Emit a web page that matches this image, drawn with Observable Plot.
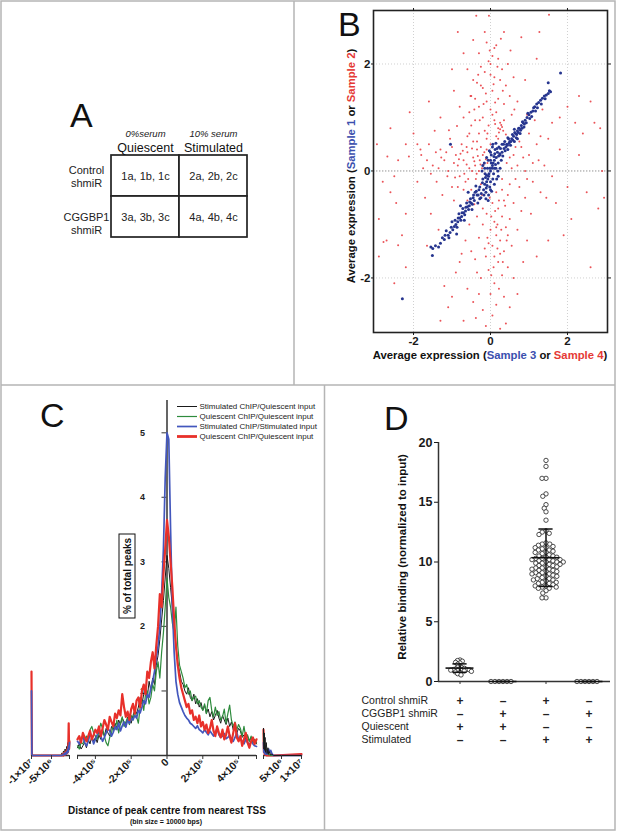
<!DOCTYPE html>
<html><head><meta charset="utf-8">
<script src="https://cdn.jsdelivr.net/npm/d3@7"></script>
<script src="https://cdn.jsdelivr.net/npm/@observablehq/plot@0.6"></script>
<style>
body{margin:0;background:#fff;font-family:"Liberation Sans",Arial,sans-serif}
#root{position:relative;width:617px;height:833px;overflow:hidden;background:#fff}
#root svg{position:absolute}
</style></head><body><div id="root"></div>
<script>
// ---------- Panel A data ----------
const aCols = ["Quiescent", "Stimulated"];
const aColNotes = ["0%serum", "10% serum"];
const aRows = ["Control\nshmiR", "CGGBP1\nshmiR"];
const aCells = [["1a, 1b, 1c", "2a, 2b, 2c"], ["3a, 3b, 3c", "4a, 4b, 4c"]];

// ---------- Panel B data ----------
const bTicks = [-2, 0, 2];
const redPts = [
[-0.37,2.9],[-0.04,2.9],[1.52,2.92],[1.27,2.6],[0.27,2.47],[-0.1,2.4],[0.1,2.3],[0.15,2.35],[-0.3,2.2],[0.05,2.15],[-0.05,2.05],[0.2,2.1],[-0.25,1.95],[0.3,1.9],[-0.15,1.85],[0.0,1.8],[0.1,1.75],[-0.45,1.7],[-0.35,1.65],[0.25,1.7],[0.4,1.6],[-0.2,1.55],[0.05,1.5],[-0.5,1.4],[-0.4,1.35],[-0.1,1.3],[0.2,1.35],[0.35,1.25],[-0.3,1.2],[0.0,1.15],[0.15,1.1],[-0.55,1.1],[-0.2,1.0],[0.1,0.95],[0.25,0.9],[-0.4,0.95],[-0.05,0.85],[0.2,0.8],[0.25,0.78],[0.3,0.82],[0.22,0.72],[0.28,0.86],[0.33,0.75],[-0.15,0.75],[-0.3,0.7],[0.4,0.68],[-0.6,0.65],[-0.1,0.6],[0.2,0.6],[-0.45,0.55],[0.0,0.5],[-0.25,0.45],[-0.52,1.4],[-0.87,0.84],[-1.08,0.76],[0.45,2.0],[-0.6,1.9],[0.6,1.75],[-0.8,1.2],[0.7,1.3],[0.9,1.7],[0.55,1.05],[-0.7,2.2],[0.35,2.6],[-0.15,2.6],
[-1.8,0.3],[-1.6,0.5],[-1.5,0.1],[-1.4,-0.2],[-1.3,0.4],[-1.2,0.2],[-1.1,0.0],[-1.0,-0.3],[-0.9,0.3],[-0.85,0.1],[-0.8,-0.1],[-0.75,0.5],[-0.7,0.2],[-0.65,-0.2],[-0.6,0.35],[-0.55,0.05],[-0.5,-0.35],[-0.45,0.25],[-0.4,0.1],[-0.38,-0.15],[-0.35,0.4],[-0.3,0.0],[-0.28,0.2],[-0.25,-0.25],[-0.2,0.3],[-0.18,0.12],[-0.15,-0.05],[-0.12,0.22],[-0.1,0.4],[-1.9,-0.2],[-1.7,-0.5],[-1.25,-0.45],[-0.95,-0.55],[-2.0,0.7],[-1.45,0.75],[-1.05,0.6],[-0.55,0.7],[-0.42,0.18],[-0.33,0.28],[-0.22,0.05],[-0.48,0.42],[-0.62,0.12],[-0.92,-0.12],[-1.15,0.35],[-1.35,0.05],[-0.78,0.32],[-0.68,-0.05],
[-2.8,-0.2],[-2.6,-0.4],[-2.5,-0.1],[-2.9,-0.9],[-2.7,-1.3],[-2.78,-1.33],[-2.4,-1.39],[-2.3,-1.2],[-2.2,-0.8],[-2.4,0.2],[-2.2,-1.8],[-1.9,0.5],[-2.9,-1.6],[-2.68,0.27],[-2.12,0.27],[-1.82,0.4],[-2.6,0.8],[-2.1,1.1],[-1.6,1.3],[-1.3,1.0],[-2.5,-2.1],
[0.05,-0.6],[0.2,-0.7],[-0.1,-0.8],[0.3,-0.85],[0.1,-0.95],[-0.2,-1.0],[0.4,-1.05],[0.0,-1.1],[0.15,-1.2],[-0.3,-1.25],[0.25,-1.3],[0.05,-1.4],[-0.15,-1.45],[0.35,-1.5],[0.1,-1.6],[-0.4,-1.65],[0.2,-1.7],[0.45,-1.8],[-0.05,-1.85],[0.3,-1.95],[-0.25,-2.0],[0.1,-2.1],[-0.6,-2.2],[0.0,-2.3],[0.35,-2.35],[-0.45,-2.45],[0.15,-2.5],[-0.2,-2.6],[0.05,-2.7],[-0.7,-2.8],[0.4,-2.85],[-1.1,-2.55],[-1.2,-2.15],[-1.0,-2.35],[-0.9,-1.9],[-0.8,-1.7],[0.6,-2.0],[0.55,-1.4],[0.7,-1.1],[0.5,-0.9],[0.6,-0.6],[0.45,-0.45],[0.3,-0.35],[0.8,-0.75],[-0.55,-1.0],[-0.65,-1.3],[0.22,-0.55],[0.12,-0.75],[0.38,-0.65],[0.18,-1.0],[-0.08,-1.25],[0.28,-1.1],[0.42,-1.3],[-0.35,-0.85],[0.08,-1.8],[0.25,-1.55],[-0.3,-2.3],[0.5,-2.55],[-0.12,-2.9],
[0.9,0.0],[1.0,0.3],[1.1,-0.2],[1.2,0.5],[1.3,-0.4],[1.4,0.1],[1.5,0.6],[1.6,-0.1],[1.8,0.4],[2.0,-0.3],[2.2,0.9],[2.4,0.7],[2.6,1.3],[2.9,0.0],[2.8,-0.7],[2.1,-0.9],[1.7,-0.6],[1.5,-1.3],[0.9,-0.5],[1.0,0.7],[1.8,1.0],[2.3,1.4],[0.8,0.45],[1.25,0.2],[1.35,1.15],[0.6,0.3],[0.7,0.1],[0.65,-0.15],[0.85,0.25],[0.55,0.05],[0.75,-0.3],[1.05,-0.8],[1.2,-1.6],[0.95,-1.3],[1.6,0.9],[2.0,1.2],[2.7,0.9],[1.15,0.95],
[-0.02,2.25],[0.18,1.95],[-0.32,1.8],[0.08,1.62],[-0.12,1.45],[0.32,1.5],[-0.42,1.15],[0.05,1.05],[-0.28,0.95],[0.12,0.88],[-0.08,0.7],[0.35,0.95],[0.15,0.65],[-0.5,0.85],[-0.35,0.55],[-0.62,0.45],[-0.72,0.38],[-0.82,0.22],[-0.95,0.15],[-1.12,-0.1],[-1.28,0.25],[-1.42,0.35],[-1.55,-0.05],[-1.65,0.2],[-1.75,0.05],[-0.58,-0.15],[-0.48,0.0],[-0.36,-0.05],[-0.26,0.12],[-0.16,0.35],[-0.08,0.15],[-0.7,-0.35],[-0.85,-0.3],[-1.0,0.45],[-0.2,-0.7],[0.02,-0.85],[0.15,-1.05],[-0.05,-1.35],[0.18,-1.45],[0.32,-1.7],[-0.12,-1.6],[0.02,-1.95],[0.22,-2.2],[-0.35,-1.9],[-0.5,-1.5],[0.45,-1.2],[0.35,-0.55],[0.5,-0.25],[0.65,0.45],[0.5,0.25],[0.42,0.15],[0.3,-0.15],[0.75,0.55],[1.1,0.15],[1.3,0.65],[0.95,-0.15],[1.45,-0.5],[2.5,-0.4],[2.3,0.3],[-2.2,0.5],[-2.45,-0.6],[-1.55,-0.8],[-1.35,-1.1],[-0.75,-1.55],[-0.95,1.5],[-0.25,1.6],[0.5,1.4],[0.62,1.15],[-0.7,1.0],[0.0,2.0],[-0.18,1.25],[0.12,1.28],[-0.45,2.45],[0.52,2.25],[-0.6,-0.55],[-0.42,-0.62],[-0.22,-0.45],[-0.02,-0.5],[0.15,-0.4],[-1.65,-1.4],[0.85,-1.7],[0.7,-2.3],[-0.38,-2.75],[0.25,-2.95],[0.95,1.05],[1.9,-1.2],[2.6,-1.8],[2.95,-0.5],[2.85,0.8],[-2.95,0.5],[-1.0,1.9],[-1.3,-2.8],[1.2,2.1],[0.8,2.5],[-0.85,2.6]
];
const bluePts = [
[0,0],[0.05,0.1],[-0.05,-0.1],[0.1,0.2],[-0.1,-0.2],[0.02,0.3],[-0.02,-0.3],[0.08,-0.05],[-0.08,0.05],[0.15,0.25],[-0.15,-0.25],[0.12,0.4],[-0.12,-0.4],[0.2,0.15],[-0.2,-0.15],[0.05,0.45],[-0.05,-0.45],[0.18,0.35],[-0.18,-0.35],[0.1,-0.25],[-0.1,0.25],[0.25,0.05],[-0.22,0.0],[0.0,0.2],[0.0,-0.2],[0.07,0.15],[-0.07,-0.15],[0.14,0.05],[-0.14,-0.05],[0.03,-0.38],[-0.03,0.38],[0.22,0.45],[0.3,0.5],[-0.25,-0.5],[0.11,0.32],[-0.11,-0.32],[0.2,-0.1],[-0.2,0.1],[0.06,0.5],[-0.06,-0.55],[0.28,0.2],[-0.28,-0.3],[0.16,-0.15],[-0.16,0.15],[0.04,0.05],[-0.04,-0.05],[0.09,0.27],[-0.09,-0.27],[0.24,0.32],[-0.24,-0.42],
[-0.3,-0.35],[-0.35,-0.45],[-0.4,-0.4],[-0.42,-0.55],[-0.45,-0.5],[-0.5,-0.6],[-0.52,-0.52],[-0.55,-0.65],[-0.6,-0.67],[-0.62,-0.6],[-0.65,-0.75],[-0.7,-0.78],[-0.72,-0.7],[-0.75,-0.85],[-0.8,-0.88],[-0.82,-0.8],[-0.85,-0.95],[-0.9,-1.0],[-0.94,-1.04],[-0.98,-1.1],[-1.0,-0.95],[-1.05,-1.15],[-1.1,-1.2],[-1.15,-1.12],[-1.2,-1.28],[-1.25,-1.25],[-1.3,-1.35],[-1.35,-1.42],[-1.43,-1.4],[-1.5,-1.45],[-1.55,-1.42],[-1.51,-1.58],[-2.29,-2.39],[-0.58,-0.4],[-0.48,-0.72],[-0.68,-0.92],[-0.78,-0.65],[-0.33,-0.6],[-0.38,-0.28],[-0.88,-1.18],
[0.25,0.3],[0.3,0.35],[0.32,0.28],[0.35,0.42],[0.38,0.38],[0.4,0.45],[0.42,0.5],[0.45,0.4],[0.48,0.52],[0.5,0.55],[0.52,0.48],[0.55,0.6],[0.58,0.58],[0.6,0.65],[0.62,0.55],[0.65,0.7],[0.68,0.68],[0.7,0.75],[0.72,0.72],[0.75,0.8],[0.78,0.76],[0.8,0.85],[0.82,0.8],[0.85,0.9],[0.88,0.88],[0.9,0.95],[0.95,1.0],[1.0,1.05],[1.02,0.98],[1.05,1.1],[1.1,1.12],[1.12,1.18],[1.15,1.2],[1.2,1.25],[1.25,1.28],[1.3,1.32],[1.35,1.36],[1.4,1.4],[1.45,1.42],[1.5,1.45],[1.53,1.5],[1.56,1.48],[1.5,1.65],[1.82,1.83],[-1.04,0.5],[0.62,0.78],[0.45,0.62],[0.7,0.6],
[0.02,0.15],[-0.02,0.05],[0.06,-0.15],[-0.06,0.2],[0.13,0.12],[-0.13,-0.12],[0.17,0.42],[-0.17,-0.45],[0.0,0.35],[0.0,-0.35],[0.21,0.28],[-0.21,-0.22],[0.1,0.05],[-0.1,-0.08],[0.26,0.42],[0.34,0.5],[0.37,0.55],[0.44,0.48],[0.47,0.6],[0.53,0.55],[0.57,0.68],[0.63,0.72],[0.67,0.62],[0.73,0.8],[0.77,0.7],[0.83,0.92],[0.87,0.82],[0.93,0.9],[0.97,1.08],[1.07,1.02],[1.17,1.12],[1.22,1.18],[1.32,1.25],[1.42,1.35],[-0.32,-0.45],[-0.37,-0.38],[-0.44,-0.45],[-0.47,-0.62],[-0.54,-0.58],[-0.57,-0.72],[-0.64,-0.68],[-0.67,-0.82],[-0.74,-0.78],[-0.77,-0.92],[-0.84,-0.88],[-0.87,-1.05],[-0.92,-0.92],[-1.02,-1.05],[-1.08,-1.25],[-1.18,-1.2],[-0.28,-0.52],[-0.12,-0.52],[0.14,0.52],[-0.15,0.05],[0.19,0.0]
];

// ---------- Panel C data ----------
const cBinSize = 1e4;
const cBlack = [0.12,0.18,0.10,0.15,0.20,0.12,0.25,0.18,0.30,0.22,0.28, 0.20,0.32,0.25,0.38,0.30,0.42,0.35,0.30,0.45,0.40, 0.50,0.42,0.55,0.48,0.58,0.52,0.45,0.60,0.55,0.50, 0.62,0.70,0.65,0.75,0.90,0.80,0.95,1.05,0.90,1.15, 1.00,1.20,1.10,1.40,1.55,1.80,2.10,2.40,2.75,3.10, 2.90,2.60,2.30,2.00,1.70,1.45,1.30,1.15,1.10,1.00, 0.95,1.05,0.90,0.85,0.95,0.80,0.88,0.75,0.82,0.70, 0.78,0.65,0.72,0.60,0.68,0.55,0.62,0.70,0.58,0.50, 0.62,0.55,0.48,0.58,0.45,0.52,0.40,0.48,0.35,0.42, 0.38,0.28,0.32,0.25,0.30,0.22,0.28,0.20,0.24,0.18];
const cGreen = [0.15,0.10,0.20,0.18,0.25,0.30,0.22,0.40,0.45,0.35,0.30, 0.25,0.38,0.50,0.42,0.30,0.20,0.15,0.28,0.35,0.48, 0.40,0.55,0.35,0.50,0.60,0.45,0.52,0.58,0.48,0.62, 0.55,0.70,0.60,0.50,0.75,0.85,0.70,0.95,1.00,0.80, 0.90,1.10,1.00,1.30,1.45,1.20,1.60,1.90,2.30,2.75, 2.45,2.30,2.05,1.90,2.30,1.70,1.40,1.30,1.20,1.05, 1.10,0.95,1.00,0.85,0.90,0.92,0.80,0.85,0.75,0.70, 0.80,0.65,0.85,0.90,0.70,0.60,0.75,0.62,0.68,0.55, 0.60,0.72,0.50,0.65,0.78,0.55,0.45,0.52,0.40,0.48, 0.42,0.30,0.45,0.28,0.32,0.22,0.30,0.20,0.25,0.20];
const cBlue = [0.22,0.18,0.25,0.30,0.20,0.15,0.22,0.35,0.28,0.18,0.25, 0.32,0.40,0.30,0.22,0.28,0.35,0.42,0.38,0.30,0.36, 0.45,0.40,0.50,0.38,0.46,0.52,0.44,0.55,0.50,0.58, 0.55,0.62,0.58,0.70,0.66,0.75,0.85,0.80,0.95,0.90, 1.05,1.15,1.30,1.50,1.70,2.00,2.50,3.20,4.30,5.00, 4.90,3.50,2.30,1.60,1.15,0.95,0.82,0.75,0.68,0.62, 0.58,0.55,0.50,0.48,0.45,0.42,0.46,0.40,0.38,0.35, 0.40,0.36,0.32,0.38,0.34,0.30,0.36,0.42,0.32,0.28, 0.30,0.34,0.26,0.28,0.32,0.25,0.22,0.28,0.36,0.24, 0.26,0.22,0.18,0.25,0.20,0.16,0.22,0.18,0.15,0.14];
const cRed = [0.25,0.30,0.20,0.35,0.28,0.22,0.30,0.38,0.25,0.32,0.40, 0.35,0.45,0.30,0.42,0.55,0.48,0.40,0.60,0.52,0.45, 0.65,0.58,0.70,0.62,0.95,0.75,0.60,0.68,0.55,0.72, 0.80,0.65,0.85,0.90,0.75,1.00,1.10,0.95,1.30,1.20, 1.45,1.60,1.35,1.70,2.00,2.50,2.30,2.80,3.20,3.65, 3.40,3.00,2.60,2.10,1.70,1.40,1.20,1.05,0.95,0.85, 0.75,0.80,0.65,0.70,0.55,0.60,0.50,0.62,0.45,0.52, 0.40,0.48,0.35,0.42,0.55,0.38,0.30,0.45,0.35,0.28, 0.40,0.25,0.32,0.45,0.30,0.20,0.35,0.50,0.28,0.22, 0.30,0.15,0.25,0.35,0.20,0.12,0.22,0.28,0.18,0.25];
const cLeftX = [-1e7,-9.9e6,-2.6e6,-2.4e6,-2.2e6,-2.0e6,-1.8e6,-1.6e6,-1.4e6,-1.2e6,-1.0e6,-0.9e6,-0.8e6,-0.7e6,-0.6e6,-0.5e6];
const cLeftBlack = [0,0,0,0.04,0.01,0.07,0.02,0.10,0.03,0.14,0.05,0.20,0.08,0.26,0.12,0.30];
const cLeftGreen = [0,0,0,0.02,0,0.04,0.01,0.06,0.03,0.09,0.05,0.14,0.08,0.20,0.12,0.24];
const cLeftBlue = [1.0,0,0,0,0.01,0.02,0.01,0.04,0.02,0.06,0.04,0.10,0.06,0.15,0.10,0.20];
const cLeftRed = [1.3,0,0,0,0.02,0,0.04,0.01,0.06,0.03,0.10,0.05,0.14,0.50,0.10,0.22];
const cRightX = [5e5,6e5,7e5,8e5,9e5,1.0e6,1.2e6,1.4e6,1.6e6,1.8e6,2.0e6,2.3e6,2.6e6,3e6,1e7];
const cRightBlack = [0.42,0.10,0.35,0.08,0.28,0.05,0.20,0.03,0.12,0.02,0.06,0.01,0.02,0,0];
const cRightGreen = [0.35,0.10,0.25,0.05,0.15,0.03,0.10,0.02,0.05,0.01,0.02,0,0,0,0];
const cRightBlue = [0.20,0.05,0.15,0.03,0.10,0.02,0.08,0.02,0.06,0.10,0.05,0.08,0.03,0,0];
const cRightRed = [0.40,0.05,0.10,0.02,0.06,0.01,0.03,0,0.02,0,0,0,0,0,0.02];
const cNames = ["Stimulated ChIP/Quiescent input","Quiescent ChIP/Quiescent input","Stimulated ChIP/Stimulated input","Quiescent ChIP/Quiescent input"];
const cColors = ["#1a1a1a","#2e8b3d","#4357bd","#e8302a"];
const cWidths = [1, 1.2, 1.7, 2.2];
const cYTicks = [1,2,3,4,5];
const cTickVals = [-1e7,-5e6,-4e5,-2e5,0,2e5,4e5,5e6,1e7];
const cTickLabels = ["-1×10⁷","-5×10⁶","-4×10⁵","-2×10⁵","0","2×10⁵","4×10⁵","5×10⁶","1×10⁷"];

// ---------- Panel D data ----------
const dGroups = ["g1","g2","g3","g4"];
const dCtrlQ = [1.8,1.75,1.7,1.6,1.55,1.45,1.3,1.2,1.15,1.1,1.05,1.05,1.0,1.0,0.98,0.95,0.92,0.9,0.88,0.85,0.8,0.75,0.65,0.55];
const dCgQ = [0,0,0,0,0,0];
const dCtrlS = [18.5,18.0,17.0,17.0,15.7,15.5,14.8,14.5,14.2,13.5,12.6,12.5,12.4,12.3,11.6,11.5,11.5,11.4,11.3,11.2,11.2,11.1,11.0,11.0,10.9,10.8,10.8,10.7,10.6,10.5,10.5,10.4,10.4,10.3,10.3,10.2,10.2,10.2,10.1,10.1,10.0,10.0,10.0,9.9,9.9,9.8,9.8,9.7,9.7,9.6,9.6,9.5,9.5,9.4,9.4,9.3,9.3,9.2,9.2,9.1,9.1,9.0,9.0,8.9,8.9,8.8,8.8,8.7,8.6,8.6,8.5,8.5,8.4,8.3,8.3,8.2,8.2,8.1,8.0,8.0,7.9,7.9,7.8,7.8,7.6,7.4,7.0,7.0];
const dCgS = [0,0,0,0,0,0];
const dYTicks = [0,5,10,15,20];
const dRowLabels = ["Control shmiR","CGGBP1 shmiR","Quiescent","Stimulated"];
const dSigns = [["+","–","+","–"],["–","+","–","+"],["+","+","–","–"],["–","–","+","+"]];

// ---------- helpers ----------
const root = document.getElementById("root");
const STYLE = "background:transparent;overflow:visible;font-family:'Liberation Sans',Arial,sans-serif;color:#1a1a1a;";
function place(el, x, y) { el.style.left = x + "px"; el.style.top = y + "px"; root.appendChild(el); return el; }
const hy = d => d < 0 ? "-" + (-d) : String(d);

// ---------- Panel A ----------
const aTable = aRows.flatMap((r, i) => aCols.map((c, j) => ({row: r, col: c, text: aCells[i][j]})));
place(Plot.plot({
  width: 294, height: 385, marginLeft: 110, marginRight: 47, marginTop: 154, marginBottom: 148,
  style: STYLE,
  x: {type: "band", domain: aCols, padding: 0, axis: null},
  y: {type: "band", domain: aRows, padding: 0, axis: null},
  marks: [
    Plot.cell(aTable, {x: "col", y: "row", fill: "white", stroke: "#222", strokeWidth: 1.7}),
    Plot.text(aTable, {x: "col", y: "row", text: "text", fontSize: 11, fill: "#222"}),
    Plot.text(aCols, {x: d => d, frameAnchor: "top", lineAnchor: "middle", dy: -7, text: d => d, fontSize: 12.5, fill: "#111"}),
    Plot.text(aCols, {x: d => d, frameAnchor: "top", lineAnchor: "middle", dy: -21, text: (d, i) => aColNotes[i], fontSize: 9.5, fontStyle: "italic", fill: "#222"}),
    Plot.text([aRows[0]], {y: d => d, frameAnchor: "left", textAnchor: "middle", dx: -24, text: d => d, fontSize: 11, lineHeight: 1.27, fill: "#222"}),
    Plot.text([aRows[1]], {y: d => d, frameAnchor: "left", textAnchor: "middle", dx: -24, dy: 6, text: d => d, fontSize: 11, lineHeight: 1.27, fill: "#222"})
  ]
}), 0, 0);

// ---------- Panel B ----------
place(Plot.plot({
  width: 323, height: 385, marginLeft: 79, marginRight: 10, marginTop: 10, marginBottom: 53,
  style: STYLE,
  x: {domain: [-3.04, 3.04]},
  y: {domain: [-3.02, 3.0]},
  marks: [
    Plot.gridX(bTicks, {stroke: "#d0d0d0", strokeOpacity: 1, strokeDasharray: "1,2"}),
    Plot.gridY(bTicks, {stroke: "#d0d0d0", strokeOpacity: 1, strokeDasharray: "1,2"}),
    Plot.ruleY([0], {stroke: "#aaa", strokeDasharray: "1.5,1.5"}),
    Plot.dot(redPts, {x: d => d[0], y: d => d[1], r: 1.0, fill: "#e8353b", fillOpacity: 0.85}),
    Plot.dot(bluePts, {x: d => d[0], y: d => d[1], r: 1.5, fill: "#26358f"}),
    Plot.frame({stroke: "#222", strokeWidth: 1.6}),
    Plot.axisX(bTicks, {anchor: "bottom", tickSize: 3, tickPadding: 1, tickFormat: hy, fontSize: 11.5, fontWeight: "bold", label: null}),
    Plot.axisY(bTicks, {anchor: "left", tickSize: 2, tickPadding: 1, tickFormat: hy, fontSize: 11.5, fontWeight: "bold", label: null}),
    Plot.axisX(bTicks, {anchor: "top", tickSize: 3, tickFormat: () => "", label: null}),
    Plot.axisY(bTicks, {anchor: "right", tickSize: 3, tickFormat: () => "", label: null})
  ]
}), 294, 0);

// ---------- Panel C ----------
const fmtC = v => { const i = cTickVals.indexOf(v); return i < 0 ? "" : cTickLabels[i]; };
const cMid = d3.range(-5e5, 5e5 + 1, cBinSize);
const toPts = (xs, ys) => xs.map((x, i) => ({x, y: ys[i]}));
function cSegment(ml, mr, dom, ticks, seriesY, xs, order, extra) {
  return Plot.plot({
    width: 324, height: 448, marginLeft: ml, marginRight: mr, marginTop: 15, marginBottom: 78,
    style: STYLE,
    x: {domain: dom, axis: null},
    y: {domain: [0, 5.5], axis: null},
    marks: [
      ...(extra || []),
      Plot.ruleY([0], {stroke: "#333", strokeWidth: 1.5}),
      ...order.map(k => Plot.line(toPts(xs, seriesY[k]), {x: "x", y: "y", stroke: cColors[k], strokeWidth: cWidths[k]})),
      Plot.axisX(ticks, {anchor: "bottom", tickSize: 4, tickPadding: 1, tickRotate: -45, tickFormat: fmtC,
        fontSize: 10.5, fontWeight: "bold", label: null, stroke: "#333"})
    ]
  });
}
const cAxisMarks = [
  Plot.ruleX([0], {stroke: "#555", strokeWidth: 1.8}),
  Plot.ruleY(cYTicks, {y: d => d, x1: -2.8e4, x2: 0, stroke: "#555", strokeWidth: 1.2}),
  Plot.text(cYTicks, {x: 0, y: d => d, text: d => String(d), dx: -22, textAnchor: "end", fontSize: 9, fontWeight: "bold", fill: "#222"})
];
place(cSegment(31, 255, [-1e7, -5e5], [-1e7, -5e6, -5e5], [cLeftBlack, cLeftGreen, cLeftBlue, cLeftRed], cLeftX, [0, 1, 3, 2]), 0, 385);
place(cSegment(77, 68, [-5e5, 5e5], [-5e5, -4e5, -2e5, 0, 2e5, 4e5, 5e5], [cBlack, cGreen, cBlue, cRed], cMid, [0, 1, 2, 3], cAxisMarks), 0, 385);
place(cSegment(263, 23, [5e5, 1e7], [5e5, 5e6, 1e7], [cRightBlack, cRightGreen, cRightBlue, cRightRed], cRightX, [3, 1, 2, 0]), 0, 385);

// legend for C
const cIdx = [0, 1, 2, 3];
place(Plot.plot({
  width: 150, height: 42, margin: 0,
  style: STYLE,
  x: {domain: [0, 20], range: [0, 20], axis: null},
  y: {type: "point", domain: cIdx, range: [5, 36.5], padding: 0, axis: null},
  marks: [
    Plot.ruleY(cIdx, {y: d => d, x1: 0, x2: 20, stroke: d => cColors[d], strokeWidth: d => cWidths[d] + (d === 3 ? 0.6 : 0)}),
    Plot.text(cIdx, {y: d => d, x: 20, dx: 2, text: d => cNames[d], textAnchor: "start", fontSize: 8, fill: "#222"})
  ]
}), 177, 400);

// ---------- Panel D ----------
const dVals = [dCtrlQ, dCgQ, dCtrlS, dCgS];
const dData = dGroups.flatMap((g, i) => dVals[i].map(v => ({g, v})));
const dStats = dGroups.map((g, i) => {
  const m = d3.mean(dVals[i]), s = d3.deviation(dVals[i]) || 0;
  return {g, mean: m, lo: m - s, hi: m + s};
});
const dotStyle = {fx: "g", y: "v", r: 2.2, stroke: "#222", strokeWidth: 0.8, fill: "white"};
place(Plot.plot({
  width: 293, height: 310, marginLeft: 113, marginRight: 7, marginTop: 57, marginBottom: 14,
  style: STYLE,
  fx: {domain: dGroups, padding: 0, axis: null},
  x: {domain: [-1, 1], axis: null},
  y: {domain: [0, 20], axis: null},
  marks: [
    Plot.ruleY([0], {stroke: "#333", strokeWidth: 1.5}),
    Plot.ruleX(dGroups, {fx: d => d, x: 0, y1: 0, y2: -0.25, stroke: "#333"}),
    Plot.ruleX([dGroups[0]], {fx: d => d, x: -1, y1: 0, y2: 20, stroke: "#333", strokeWidth: 1.5}),
    Plot.dot(dData.filter(d => d.g === "g1"), Plot.dodgeX({anchor: "middle", padding: -1.8}, dotStyle)),
    Plot.dot(dData.filter(d => d.g !== "g1"), Plot.dodgeX({anchor: "middle", padding: -0.4}, dotStyle)),
    Plot.ruleY(dStats, {fx: "g", y: "mean", x1: -0.65, x2: 0.65, stroke: "#111", strokeWidth: 1.6}),
    Plot.ruleY(dStats, {fx: "g", y: "hi", x1: -0.33, x2: 0.33, stroke: "#111", strokeWidth: 1.5}),
    Plot.ruleY(dStats, {fx: "g", y: "lo", x1: -0.33, x2: 0.33, stroke: "#111", strokeWidth: 1.5}),
    Plot.ruleX(dStats, {fx: "g", x: 0, y1: "lo", y2: "hi", stroke: "#111", strokeWidth: 1.5}),
    Plot.axisY(dYTicks, {anchor: "left", tickSize: 4, tickPadding: 2, fontSize: 12.5, fontWeight: "bold", label: null})
  ]
}), 324, 385);

const dTable = dRowLabels.flatMap((r, i) => dGroups.map((g, j) => ({row: r, g, s: dSigns[i][j]})));
place(Plot.plot({
  width: 293, height: 60, marginLeft: 113, marginRight: 7, marginTop: 3, marginBottom: 3,
  style: STYLE,
  x: {type: "band", domain: dGroups, padding: 0, axis: null},
  y: {type: "band", domain: dRowLabels, padding: 0, axis: null},
  marks: [
    Plot.text(dTable, {x: "g", y: "row", text: "s", fontSize: 12, fontWeight: "bold", fill: "#222"}),
    Plot.text(dRowLabels, {y: d => d, frameAnchor: "left", textAnchor: "start", dx: -76, text: d => d, fontSize: 10.5, fill: "#222"})
  ]
}), 324, 690);

// ---------- overlay: panel borders, letters, titles ----------
const ov = document.createElementNS("http://www.w3.org/2000/svg", "svg");
ov.setAttribute("width", 617); ov.setAttribute("height", 833);
ov.style.left = "0px"; ov.style.top = "0px";
ov.setAttribute("font-family", "'Liberation Sans',Arial,sans-serif");
const BL = "#3b4fae", RD = "#e53935";
ov.innerHTML = `
<g stroke="#b5b5b5" stroke-width="1.5" fill="none">
  <rect x="1" y="1" width="614" height="829"/>
  <line x1="294" y1="1" x2="294" y2="385"/>
  <line x1="1" y1="385" x2="615" y2="385"/>
  <line x1="324.5" y1="385" x2="324.5" y2="830"/>
</g>
<g font-size="34" fill="#111">
  <text x="70" y="127">A</text>
  <text x="338" y="36">B</text>
  <text x="40" y="427">C</text>
  <text x="384" y="430">D</text>
</g>
<text x="490" y="359" text-anchor="middle" font-size="11.3" font-weight="bold" fill="#111">Average expression (<tspan fill="${BL}">Sample 3</tspan> or <tspan fill="${RD}">Sample 4</tspan>)</text>
<text transform="translate(355,166) rotate(-90)" text-anchor="middle" font-size="11.3" font-weight="bold" fill="#111">Average expression  (<tspan fill="${BL}">Sample 1</tspan> or <tspan fill="${RD}">Sample 2</tspan>)</text>
<rect x="119" y="534" width="16" height="84" fill="white" stroke="#111" stroke-width="1"/>
<text transform="translate(131,576) rotate(-90)" text-anchor="middle" font-size="10" font-weight="bold" fill="#111">% of total peaks</text>
<text x="167" y="813.5" text-anchor="middle" font-size="10" font-weight="bold" fill="#111">Distance of peak centre from nearest TSS</text>
<text x="166" y="824" text-anchor="middle" font-size="7" font-weight="bold" fill="#111">(bin size = 10000 bps)</text>
<text transform="translate(406,557) rotate(-90)" text-anchor="middle" font-size="11.5" font-weight="bold" fill="#111">Relative binding (normalized to input)</text>
`;
root.appendChild(ov);
</script></body></html>
